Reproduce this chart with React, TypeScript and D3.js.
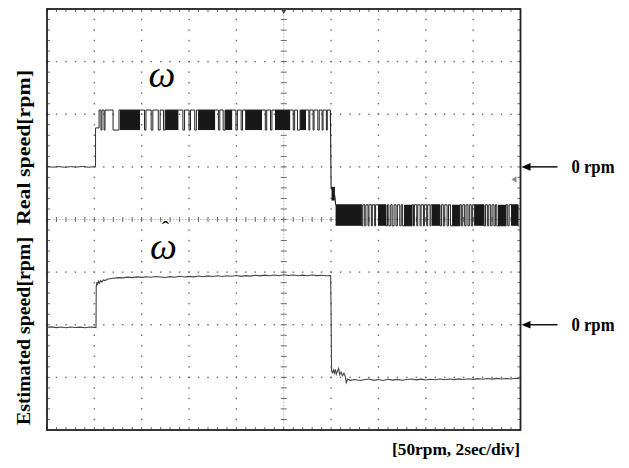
import React from "react";
import * as d3 from "d3";

// ---------- data ----------
const timeRange = [0, 20]; // seconds (2 sec/div, 10 divisions)
const rpmPerDiv = 50;
const xDivisions = 10;
const yDivisions = 8;

// Real speed (channel 1), rpm
const realZeroNoise: [number, number][] = [
  [0, 0.4], [0.25, -0.3], [0.5, 0.3], [0.75, -0.4], [1.0, 0.2], [1.25, -0.2],
  [1.5, 0.4], [1.75, -0.3], [2.0, 0.1], [2.05, 0],
];
const realStep: [number, number][] = [[2.05, 0], [2.05, 37]];
const realHighChanges: [number, number][] = [
  [2.05, 37], [2.2, 54], [2.28, 35], [2.32, 54], [2.41, 35], [2.45, 54], [2.79, 35], [3.04, 54],
  [3.08, 54],
  [3.93, 54], [4.12, 35], [4.18, 54], [4.4, 35], [4.47, 54], [4.7, 35], [4.78, 54], [4.92, 35],
  [4.99, 54],
  [5.55, 54], [5.74, 35], [5.81, 54], [6.0, 35], [6.06, 54], [6.24, 35], [6.31, 54],
  [6.38, 54],
  [7.1, 54], [7.24, 35], [7.3, 54], [7.44, 35],
  [7.52, 54],
  [7.82, 54], [7.98, 35], [8.04, 54], [8.2, 35], [8.26, 54],
  [8.37, 54],
  [9.08, 54], [9.22, 35], [9.28, 54], [9.44, 35], [9.5, 54],
  [9.63, 54],
  [10.27, 54], [10.4, 35], [10.46, 54], [10.58, 35],
  [10.69, 54],
  [10.94, 54], [11.06, 35], [11.1, 54], [11.24, 35], [11.28, 54], [11.44, 35], [11.5, 54],
  [11.62, 35], [11.66, 54], [11.8, 35], [11.84, 54], [11.97, 54],
];
const realDrop: [number, number][] = [
  [11.97, 54], [12.0, -19], [12.03, -21], [12.06, -20], [12.1, -24], [12.14, -26],
  [12.17, -30], [12.19, -36],
];
const realLowChanges: [number, number][] = [
  [12.19, -36],
  [13.3, -56], [13.34, -36], [13.42, -56], [13.47, -36], [13.56, -56], [13.6, -36], [13.7, -56],
  [13.74, -36], [13.84, -56], [13.88, -36],
  [14.32, -56], [14.38, -36], [14.44, -56], [14.52, -36], [14.58, -56], [14.66, -36], [14.74, -56],
  [14.8, -36], [14.9, -56], [14.96, -36], [15.02, -56],
  [15.42, -36], [15.48, -56], [15.52, -36], [15.62, -56], [15.66, -36], [15.76, -56], [15.8, -36],
  [15.9, -56], [15.94, -36], [16.04, -56], [16.08, -36], [16.18, -56], [16.22, -36],
  [16.6, -56], [16.66, -36], [16.74, -56], [16.8, -36], [16.9, -56], [16.96, -36], [17.04, -56],
  [17.44, -36], [17.5, -56], [17.56, -36], [17.64, -56], [17.7, -36], [17.78, -56], [17.84, -36],
  [17.92, -56], [17.98, -36],
  [18.46, -56], [18.52, -36], [18.6, -56], [18.66, -36], [18.74, -56], [18.8, -36], [18.88, -56],
  [18.94, -36], [19.0, -56],
  [19.39, -36], [19.46, -56], [19.52, -36],
  [19.9, -56], [19.95, -56],
];
// dense (unresolved) toggling: [t0, t1, rpmLow, rpmHigh]
const realDenseBands: [number, number, number, number][] = [
  [3.08, 3.93, 35, 54], [4.99, 5.55, 35, 54], [6.38, 7.1, 35, 54], [7.52, 7.82, 35, 54],
  [8.37, 9.08, 35, 54], [9.63, 10.27, 35, 54], [10.69, 10.94, 35, 54],
  [12.02, 12.16, -32, -19],
  [12.19, 13.3, -56, -36], [13.98, 14.32, -56, -36], [15.08, 15.42, -56, -36],
  [16.26, 16.6, -56, -36], [17.11, 17.44, -56, -36], [18.04, 18.46, -56, -36],
  [19.05, 19.39, -56, -36], [19.6, 19.9, -56, -36],
];

// Estimated speed (channel 2), rpm
const estimatedSpeed: [number, number][] = [
  [0, -2.4], [0.2, -2.0], [0.4, -2.7], [0.6, -2.2], [0.8, -2.8], [1.0, -2.1], [1.2, -2.6],
  [1.4, -2.3], [1.6, -2.9], [1.8, -2.2], [2.0, -2.5], [2.07, -2.8],
  [2.08, 36], [2.11, 40.5], [2.14, 38.5], [2.18, 41.5], [2.22, 39.5], [2.27, 42], [2.32, 40.5],
  [2.38, 42.5], [2.45, 42], [2.55, 43.2], [2.7, 44], [2.85, 44.3], [3.0, 44.8], [3.2, 44.5],
  [3.4, 45.2], [3.6, 44.8], [3.8, 45.5], [4.0, 45], [4.2, 45.6], [4.4, 45.1], [4.6, 45.8],
  [4.8, 45.3], [5.0, 44.9], [5.2, 45.7], [5.4, 45.2], [5.6, 46.1], [5.8, 45.4], [6.0, 46],
  [6.2, 45.5], [6.4, 46.3], [6.6, 45.6], [6.8, 46.4], [7.0, 45.8], [7.2, 46.5], [7.4, 45.9],
  [7.6, 46.6], [7.8, 46.1], [8.0, 46.8], [8.2, 46], [8.4, 46.7], [8.6, 46.2], [8.8, 47],
  [9.0, 46.4], [9.2, 47.1], [9.4, 46.5], [9.6, 47.3], [9.8, 46.6], [10.0, 47.5], [10.2, 46.8],
  [10.4, 47.2], [10.6, 46.5], [10.8, 47.1], [11.0, 46.6], [11.2, 47.2], [11.4, 46.7],
  [11.6, 47], [11.8, 46.5], [11.98, 46.8],
  [12.0, 10], [12.02, -44], [12.06, -45.5], [12.1, -43], [12.14, -46], [12.18, -42.5],
  [12.22, -47], [12.27, -44], [12.32, -41.5], [12.36, -47.5], [12.42, -45], [12.48, -48.5],
  [12.54, -46], [12.6, -49], [12.64, -55], [12.7, -51.5], [12.8, -52.8], [13.0, -52],
  [13.2, -53], [13.4, -52.2], [13.6, -51.6], [13.8, -52.8], [14.0, -52], [14.2, -52.9],
  [14.4, -51.8], [14.6, -52.6], [14.8, -51.9], [15.0, -52.7], [15.2, -52], [15.4, -51.5],
  [15.6, -52.4], [15.8, -51.7], [16.0, -52.5], [16.2, -51.8], [16.4, -52.3], [16.6, -51.6],
  [16.8, -52.2], [17.0, -51.5], [17.2, -52.1], [17.4, -51.4], [17.6, -52], [17.8, -51.3],
  [18.0, -51.9], [18.2, -51.2], [18.4, -51.8], [18.6, -51.1], [18.8, -51.7], [19.0, -51],
  [19.2, -51.6], [19.4, -51.1], [19.6, -51.5], [19.8, -50.9], [19.95, -51.2],
];

const realLabel = "Real speed[rpm]";
const estLabel = "Estimated speed[rpm]";
const omega = "ω";
const hat = "ˆ";
const zeroLabel = "0 rpm";
const scaleLabel = "[50rpm, 2sec/div]";

// ---------- layout ----------
const W = 629;
const H = 468;
const left = 47;
const right = 520.5;
const top = 9;
const bottom = 430;

export default function App() {
  const x = d3.scaleLinear().domain(timeRange).range([left, right]);
  const gy = d3.scaleLinear().domain([0, yDivisions]).range([top, bottom]);
  const y1 = d3.scaleLinear().domain([0, rpmPerDiv]).range([gy(3), gy(2)]);
  const y2 = d3.scaleLinear().domain([0, rpmPerDiv]).range([gy(6), gy(5)]);

  const lin1 = d3.line<[number, number]>().x((d) => x(d[0])).y((d) => y1(d[1]));
  const step1 = d3
    .line<[number, number]>()
    .x((d) => x(d[0]))
    .y((d) => y1(d[1]))
    .curve(d3.curveStepAfter);
  const lin2 = d3.line<[number, number]>().x((d) => x(d[0])).y((d) => y2(d[1]));

  const xDivTicks = d3.range(0, timeRange[1] + 0.001, timeRange[1] / xDivisions);
  const xMinor = d3.range(0, timeRange[1] + 0.001, timeRange[1] / xDivisions / 5);
  const yDivTicks = d3.range(0, yDivisions + 0.001, 1);
  const yMinor = d3.range(0, yDivisions + 0.001, 0.2);
  const cx = x(timeRange[1] / 2);
  const cy = gy(yDivisions / 2);

  const grid: JSX.Element[] = [];
  xDivTicks.slice(1, -1).forEach((t, i) => {
    if (Math.abs(x(t) - cx) < 1) return;
    yMinor.forEach((v, j) => {
      grid.push(<rect key={`vd${i}-${j}`} x={x(t) - 0.7} y={gy(v) - 0.7} width={1.4} height={1.4} fill="#6a6a6a" />);
    });
  });
  yDivTicks.slice(1, -1).forEach((v, i) => {
    if (Math.abs(gy(v) - cy) < 1) return;
    xMinor.forEach((t, j) => {
      grid.push(<rect key={`hd${i}-${j}`} x={x(t) - 0.7} y={gy(v) - 0.7} width={1.4} height={1.4} fill="#6a6a6a" />);
    });
  });
  const centerMarks: JSX.Element[] = [];
  xMinor.forEach((t, j) => {
    centerMarks.push(
      <line key={`cxm${j}`} x1={x(t)} x2={x(t)} y1={cy - 2.5} y2={cy + 2.5} stroke="#666" strokeWidth={1} />
    );
  });
  yMinor.forEach((v, j) => {
    centerMarks.push(
      <line key={`cym${j}`} x1={cx - 3} x2={cx + 3} y1={gy(v)} y2={gy(v)} stroke="#666" strokeWidth={1} />
    );
  });
  const borderTicks: JSX.Element[] = [];
  xMinor.forEach((t, j) => {
    borderTicks.push(<line key={`bt${j}`} x1={x(t)} x2={x(t)} y1={top} y2={top + 3} stroke="#555" strokeWidth={0.9} />);
    borderTicks.push(<line key={`bb${j}`} x1={x(t)} x2={x(t)} y1={bottom - 3} y2={bottom} stroke="#555" strokeWidth={0.9} />);
  });
  yMinor.forEach((v, j) => {
    borderTicks.push(<line key={`bl${j}`} x1={left} x2={left + 3} y1={gy(v)} y2={gy(v)} stroke="#555" strokeWidth={0.9} />);
    borderTicks.push(<line key={`br${j}`} x1={right - 3} x2={right} y1={gy(v)} y2={gy(v)} stroke="#555" strokeWidth={0.9} />);
  });

  const serif = "'Liberation Serif', 'Times New Roman', serif";

  const arrow = (yy: number, key: string) => (
    <g key={key}>
      <line x1={right + 6} x2={right + 37} y1={yy} y2={yy} stroke="#000" strokeWidth={1.4} />
      <path d={`M${right + 1},${yy} L${right + 10},${yy - 3.8} L${right + 10},${yy + 3.8} Z`} fill="#000" />
      <text
        x={right + 51}
        y={yy + 6}
        fontFamily={serif}
        fontWeight="bold"
        fontSize={18}
        textLength={43}
        lengthAdjust="spacingAndGlyphs"
        fill="#000"
      >
        {zeroLabel}
      </text>
    </g>
  );

  return (
    <svg width={W} height={H} style={{ position: "fixed", left: 0, top: 0, background: "#fff" }}>
      <rect width={W} height={H} fill="#fff" />
      {grid}
      <line x1={left} x2={right} y1={cy} y2={cy} stroke="#999" strokeWidth={0.7} strokeDasharray="1.5,1.5" />
      <line x1={cx} x2={cx} y1={top} y2={bottom} stroke="#999" strokeWidth={0.7} strokeDasharray="1.5,1.5" />
      {centerMarks}
      {borderTicks}
      <rect x={left} y={top} width={right - left} height={bottom - top} fill="none" stroke="#222" strokeWidth={1.8} />
      <path d={`M${cx - 3},${top} L${cx + 3},${top} L${cx},${top + 5} Z`} fill="#444" />
      <path d={`M${right - 9},${y1(-12)} L${right - 4},${y1(-9)} L${right - 4},${y1(-15)} Z`} fill="#888" />

      {realDenseBands.map((b, i) => (
        <rect
          key={`band${i}`}
          x={x(b[0])}
          width={x(b[1]) - x(b[0])}
          y={y1(b[3])}
          height={y1(b[2]) - y1(b[3])}
          fill="#181818"
        />
      ))}
      <path d={lin1(realZeroNoise) || ""} fill="none" stroke="#333" strokeWidth={1} />
      <path d={lin1(realStep) || ""} fill="none" stroke="#333" strokeWidth={1} />
      <path d={step1(realHighChanges) || ""} fill="none" stroke="#222" strokeWidth={1} />
      <path d={lin1(realDrop) || ""} fill="none" stroke="#222" strokeWidth={1.1} />
      <path d={step1(realLowChanges) || ""} fill="none" stroke="#222" strokeWidth={1} />

      <path d={lin2(estimatedSpeed) || ""} fill="none" stroke="#444" strokeWidth={1.1} />

      <text x={162} y={87} textAnchor="middle" fontFamily={serif} fontStyle="italic" fontSize={38} fill="#000">
        {omega}
      </text>
      <text x={150} y={259} fontFamily={serif} fontStyle="italic" fontSize={38} fill="#000">
        {omega}
        <tspan dx={-15} dy={-23} fontSize={22} fontStyle="normal">
          {hat}
        </tspan>
      </text>

      <text
        transform={`translate(29.5,147.5) rotate(-90)`}
        textAnchor="middle"
        fontFamily={serif}
        fontWeight="bold"
        fontSize={19.5}
        textLength={155}
        lengthAdjust="spacingAndGlyphs"
        fill="#000"
      >
        {realLabel}
      </text>
      <text
        transform={`translate(29.5,331) rotate(-90)`}
        textAnchor="middle"
        fontFamily={serif}
        fontWeight="bold"
        fontSize={19.5}
        textLength={188}
        lengthAdjust="spacingAndGlyphs"
        fill="#000"
      >
        {estLabel}
      </text>

      {arrow(y1(0), "a1")}
      {arrow(y2(0), "a2")}

      <text
        x={392}
        y={455}
        fontFamily={serif}
        fontWeight="bold"
        fontSize={17}
        textLength={128}
        lengthAdjust="spacingAndGlyphs"
        fill="#000"
      >
        {scaleLabel}
      </text>
    </svg>
  );
}
